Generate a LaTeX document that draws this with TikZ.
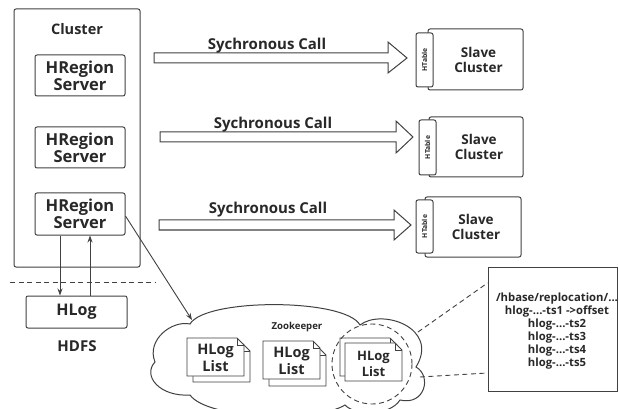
\documentclass[tikz,border=0pt]{standalone}
\usepackage{fontspec}
\setmainfont{Open Sans}
\usetikzlibrary{arrows.meta}
\definecolor{ink}{RGB}{65,65,65}
\definecolor{txt}{RGB}{40,40,40}
\tikzset{
  base/.style={font=\bfseries, text=txt, align=center, inner sep=0pt},
  box/.style={base, draw=ink, line width=1pt, rounded corners=2pt, fill=white},
  tab/.style={draw=ink, line width=1pt, rounded corners=2pt, fill=white,
              minimum width=17pt, inner sep=0pt},
  blockarrow/.style={draw=ink, line width=1pt, fill=white, line join=miter},
  conn/.style={draw=ink, line width=0.9pt, -{Stealth[length=7pt,width=5pt]}},
  dashline/.style={draw=ink, line width=0.9pt, dash pattern=on 5pt off 3.5pt},
  docpage/.pic={
    \path[draw=ink, fill=white, line width=0.9pt]
      (0,0) -- (50,0) -- (57,7) -- (57,38) -- (0,38) -- cycle;
    \draw[ink, line width=0.7pt] (50,0) -- (50,7) -- (57,7);
  }
}
\newcommand{\fs}[2]{\fontsize{#1}{#2}\selectfont}
\begin{document}
\begin{tikzpicture}[x=1pt,y=-1pt]
\useasboundingbox[fill=white] (0,0) rectangle (619,409);

% master cluster with its region servers
\node[box, minimum width=126pt, minimum height=258pt] (cluster) at (77,138) {};
\node[base, font=\bfseries\fs{14.5}{17}] (clustername) at (77,29) {Cluster};
\node[box, font=\bfseries\fs{16.5}{17}, minimum width=90pt, minimum height=41pt] (rs1) at (80,75.5) {HRegion\\Server};
\node[box, font=\bfseries\fs{16.5}{17}, minimum width=90pt, minimum height=41pt] (rs2) at (80,147.5) {HRegion\\Server};
\node[box, font=\bfseries\fs{16.5}{17}, minimum width=90pt, minimum height=42pt] (rs3) at (80,214) {HRegion\\Server};

% HDFS side
\draw[dashline] (10,282) -- (155,282);
\node[box, font=\bfseries\fs{16}{18}, minimum width=101pt, minimum height=32pt] (hlog) at (76.5,312) {HLog};
\node[base, font=\bfseries\fs{15}{17}] (hdfs) at (77,346) {HDFS};
\coordinate (dn) at (60,0);
\coordinate (up) at (90,0);
\draw[conn] (rs3.south -| dn) -- (hlog.north -| dn);
\draw[conn] (hlog.north -| up) -- (rs3.south -| up);

% slave clusters with their HTable tabs
\node[box, font=\bfseries\fs{13.5}{15}, minimum width=95pt, minimum height=61pt] (sc1) at (475.5,59.5) {\hspace*{6pt}Slave\\\hspace*{6pt}Cluster};
\node[tab, minimum height=54pt] (ht1) at (424.5,60) {};
\node[base, font=\bfseries\fs{6.8}{8}, rotate=90] (ht1t) at (ht1) {HTable};
\node[box, font=\bfseries\fs{13.5}{15}, minimum width=94pt, minimum height=60pt] (sc2) at (476,147) {\hspace*{6pt}Slave\\\hspace*{6pt}Cluster};
\node[tab, minimum height=55pt] (ht2) at (427.5,147.5) {};
\node[base, font=\bfseries\fs{6.8}{8}, rotate=90] (ht2t) at (ht2) {HTable};
\node[box, font=\bfseries\fs{13.5}{15}, minimum width=96pt, minimum height=60pt] (sc3) at (473,227) {\hspace*{6pt}Slave\\\hspace*{6pt}Cluster};
\node[tab, minimum height=53pt] (ht3) at (424.5,226.5) {};
\node[base, font=\bfseries\fs{6.8}{8}, rotate=90] (ht3t) at (ht3) {HTable};

% synchronous replication calls
\path[blockarrow] (154,53) -- (388,53) -- (388,42) -- (407,58) -- (388,73) -- (388,63) -- (154,63) -- cycle;
\node[base, font=\bfseries\fs{15}{17}, anchor=base] (call1) at (267,50) {Sychronous Call};
\path[blockarrow] (160,132) -- (396,132) -- (396,121) -- (413,137) -- (396,153) -- (396,142) -- (160,142) -- cycle;
\node[base, font=\bfseries\fs{15}{17}, anchor=base] (call2) at (273,129) {Sychronous Call};
\path[blockarrow] (159,220) -- (394,220) -- (394,210) -- (411,225) -- (394,240) -- (394,230) -- (159,230) -- cycle;
\node[base, font=\bfseries\fs{15}{17}, anchor=base] (call3) at (268,214) {Sychronous Call};

% zookeeper cloud
\path[draw=ink, line width=1pt, fill=white]
  (155,362) .. controls (146,340) and (172,320) .. (190,324)
  .. controls (205,298) and (345,298) .. (360,325)
  .. controls (382,308) and (440,328) .. (416,367)
  .. controls (432,376) and (425,406) .. (400,400)
  .. controls (390,416) and (355,416) .. (345,405)
  .. controls (318,422) and (208,420) .. (190,395)
  .. controls (160,397) and (142,376) .. (155,362) -- cycle;
\node[base, font=\bfseries\fs{9.6}{11}] (zk) at (297,327) {Zookeeper};
\coordinate (zkin) at (192,320);
\draw[conn] (rs3.east |- 0,216) -- (zkin);

% HLog lists kept in zookeeper
\pic at (193,344) {docpage};
\pic at (187,338) {docpage};
\node[base, font=\bfseries\fs{14.5}{17}] (list1) at (215.5,358) {HLog\\List};
\pic at (269,348) {docpage};
\pic at (263,341) {docpage};
\node[base, font=\bfseries\fs{14.5}{17}] (list2) at (291.5,361) {HLog\\List};
\pic at (340,338) {docpage};
\pic at (345,343) {docpage};
\node[base, font=\bfseries\fs{13}{16}] (list3) at (373.5,364) {HLog\\List};
\node[dashline, circle, minimum size=80pt] (focus) at (372,364) {};

% detail of one list
\node[draw=ink, line width=1pt, minimum width=129pt, minimum height=124pt, inner sep=0pt] (replog) at (552.5,329) {};
\node[base, font=\bfseries\fs{11.3}{13}] (replogtext) at (557,331)
  {/hbase/replocation/...\\hlog-...-ts1 ->offset\\hlog-...-ts2\\hlog-...-ts3\\hlog-...-ts4\\hlog-...-ts5};
\coordinate (cup) at (418,332);
\coordinate (clow) at (420,377);
\draw[dashline] (cup) -- (replog.west |- 0,283);
\draw[dashline] (clow) -- (replog.west |- 0,373);
\end{tikzpicture}
\end{document}
